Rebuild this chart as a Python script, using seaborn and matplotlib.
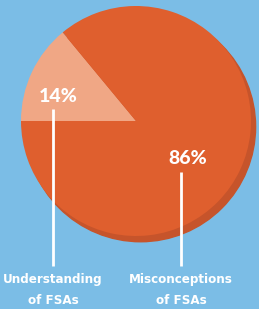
import matplotlib.pyplot as plt
import matplotlib.patches as mpatches
import seaborn as sns

# data
labels = ['Understanding\nof FSAs', 'Misconceptions\nof FSAs']
shares = [14, 86]
pct_text = ['14%', '86%']

bg = '#7bbde6'
colors = ['#f0a785', '#df5f2e']
shadow = '#c6542b'

sns.set_style('white')
plt.rcParams['font.family'] = ['DejaVu Sans']

fig = plt.figure(figsize=(2.59, 3.09), dpi=100, facecolor=bg)

# pie axes (centre ~ (136,121) px, radius ~115 px)
ax = fig.add_axes([21 / 259, (309 - 236) / 309, 230 / 259, 230 / 309])
ax.set_facecolor('none')
ax.add_patch(mpatches.Circle((0.04, -0.05), 1.0, color=shadow, zorder=0, clip_on=False))
wedges, _ = ax.pie(shares, colors=colors, startangle=180 - shares[0] * 3.6,
                   counterclock=True, radius=1.0,
                   wedgeprops=dict(linewidth=0))
for w in wedges:
    w.set_zorder(1)
    w.set_clip_on(False)
ax.set_xlim(-1, 1)
ax.set_ylim(-1, 1)
ax.set_aspect('equal')
ax.axis('off')

# overlay in pixel coords for callouts
ov = fig.add_axes([0, 0, 1, 1])
ov.set_xlim(0, 259)
ov.set_ylim(309, 0)
ov.axis('off')
ov.set_facecolor('none')

pct_pos = [(58, 97), (188, 158)]
line_x = [53, 181]
line_top = [109, 172]
for i in range(2):
    ov.text(pct_pos[i][0], pct_pos[i][1], pct_text[i], color='white', fontsize=14,
            fontweight='black', family=['Lato', 'DejaVu Sans'], ha='center', va='center')
    ov.plot([line_x[i], line_x[i]], [line_top[i], 266], color='white', lw=2,
            solid_capstyle='butt')
    for j, part in enumerate(labels[i].split('\n')):
        ov.text(line_x[i], 279 + 21 * j, part, color='white', fontsize=9.5,
                fontweight='bold', fontstretch='condensed', ha='center', va='center')

fig.savefig('out.png', dpi=100, facecolor=bg)
